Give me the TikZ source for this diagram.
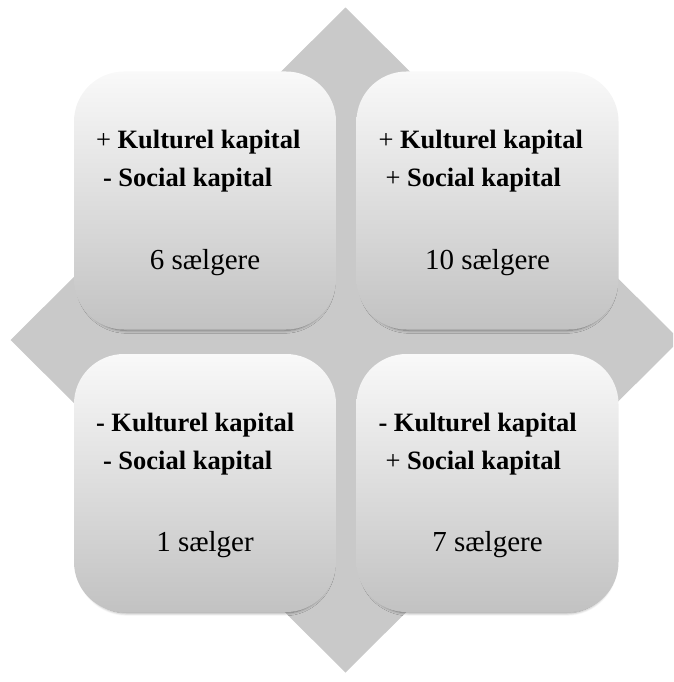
\documentclass[tikz,border=0pt]{standalone}
\usepackage{fontspec}
\setmainfont{Liberation Serif}
\usepackage{xcolor}
\usetikzlibrary{shadows.blur}
\definecolor{diamondgrey}{RGB}{201,201,201}
\definecolor{boxtop}{RGB}{249,249,249}
\definecolor{boxbottom}{RGB}{194,194,194}

\begin{document}
\begin{tikzpicture}[x=1pt,y=-1pt,
  box/.style={rounded corners=50pt,minimum width=262pt,minimum height=258pt,
    top color=boxtop,bottom color=boxbottom,
    blur shadow={shadow xshift=0.5pt,shadow yshift=-5pt,shadow blur radius=3pt,
      shadow scale=0.97,shadow blur steps=6,shadow opacity=45}},
  kapital/.style={anchor=base west,inner sep=0pt,font=\fontsize{26.5}{30}\selectfont},
  antal/.style={anchor=base,inner sep=0pt,font=\fontsize{29}{32}\selectfont}]
  \useasboundingbox (0,0) rectangle (673,682);
  \clip (0,0) rectangle (673,682);
  \fill[diamondgrey] (345.5,7.5) -- (680,340) -- (345.5,672.5) -- (10.5,340) -- cycle;

  \foreach \n/\cx/\cy/\k/\s/\m in {
    tl/205/200.5/{+ \textbf{Kulturel kapital}}/{\textbf{- Social kapital}}/6 sælgere,
    tr/487.5/200.5/{+ \textbf{Kulturel kapital}}/{+ \textbf{Social kapital}}/10 sælgere,
    bl/205/483/{\textbf{- Kulturel kapital}}/{\textbf{- Social kapital}}/1 sælger,
    br/487.5/483/{\textbf{- Kulturel kapital}}/{+ \textbf{Social kapital}}/7 sælgere}{
    \node[box] (box-\n) at (\cx,\cy) {};
    \node[kapital] (kultur-\n) at ([xshift=22pt,yshift=-77.5pt]box-\n.north west) {\k};
    \node[kapital] (social-\n) at ([xshift=29pt,yshift=-115.5pt]box-\n.north west) {\s};
    \node[antal] (antal-\n) at ([yshift=-198pt]box-\n.north) {\m};
  }
\end{tikzpicture}
\end{document}
